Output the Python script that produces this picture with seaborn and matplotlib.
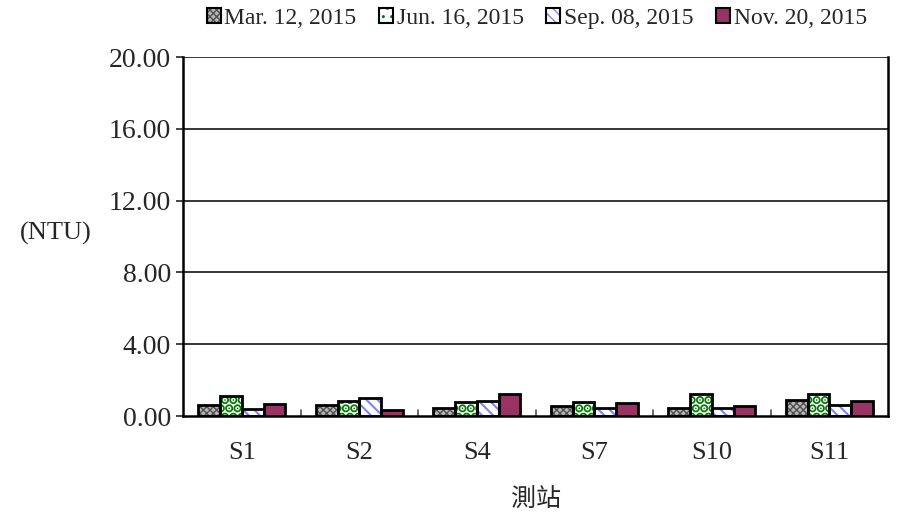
import pandas as pd
import matplotlib.pyplot as plt
import seaborn as sns
from matplotlib.patches import Patch, Rectangle
from matplotlib.legend_handler import HandlerTuple

# Turbidity (NTU) per station and sampling date
stations = ['S1', 'S2', 'S4', 'S7', 'S10', 'S11']
dates = ['Mar. 12, 2015', 'Jun. 16, 2015', 'Sep. 08, 2015', 'Nov. 20, 2015']
mar = [0.64, 0.64, 0.46, 0.55, 0.47, 0.92]
jun = [1.14, 0.86, 0.77, 0.77, 1.20, 1.20]
sep = [0.40, 0.99, 0.81, 0.44, 0.44, 0.64]
nov = [0.68, 0.36, 1.25, 0.70, 0.55, 0.83]
y_ticks = [0, 4, 8, 12, 16, 20]

# bar styles: face colour, hatch, hatch colour, hatch linewidth
styles = [
    ('#b8b8b8', 'xxxxx', '#505050', 1.0),
    ('white', '..', '#007a00', 4.5),
    ('white', '\\\\\\', '#8080ff', 1.5),
    ('#993366', '', '#993366', 1.0),
]


def build_frame():
    rows = []
    for date, vals in zip(dates, [mar, jun, sep, nov]):
        for st, v in zip(stations, vals):
            rows.append({'station': st, 'date': date, 'ntu': v})
    return pd.DataFrame(rows)


def style_patch(p, fc, hatch, hc, hlw):
    p.set_facecolor(fc)
    p.set_edgecolor(hc)
    p.set_linewidth(0)
    p.set_hatch(hatch)
    if hasattr(p, 'set_hatch_linewidth'):
        p.set_hatch_linewidth(hlw)


def main():
    df = build_frame()
    sns.set_style('white')
    plt.rcParams['font.family'] = ['Liberation Serif', 'Noto Sans CJK TC']

    fig = plt.figure(figsize=(8.99, 5.21), dpi=100)
    ax = fig.add_axes([0.2036, 0.2015, 0.7844, 0.689])

    sns.barplot(data=df, x='station', y='ntu', hue='date', order=stations,
                hue_order=dates, width=0.74, ax=ax, legend=False)

    # hatched fill, then a black outline on top
    for cont, st in zip(ax.containers, styles):
        for bar in cont:
            style_patch(bar, *st)
            ax.add_patch(Rectangle(bar.get_xy(), bar.get_width(), bar.get_height(),
                                   fill=False, edgecolor='black', linewidth=2,
                                   zorder=bar.get_zorder() + 0.1))

    ax.set_ylim(0, 20)
    ax.set_xlim(-0.5, len(stations) - 0.5)
    ax.set_yticks(y_ticks)
    ax.set_yticklabels([f'{t:.2f}' for t in y_ticks], fontsize=20)
    ax.tick_params(axis='x', labelsize=19, length=0, pad=19)
    ax.tick_params(axis='y', length=5, width=1.2, direction='out', left=True)
    for t in y_ticks[1:]:
        ax.axhline(t, color='black', linewidth=1.1, zorder=0)
    # category separators on the x axis
    for i in range(1, len(stations)):
        ax.plot([i - 0.5, i - 0.5], [0, 0.35], color='#555555', linewidth=1.2,
                clip_on=False)

    for side in ['left', 'right', 'bottom']:
        ax.spines[side].set_visible(True)
        ax.spines[side].set_color('black')
        ax.spines[side].set_linewidth(1.8)
    ax.spines['top'].set_visible(False)

    ax.set_xlabel('測站', fontsize=18, family='Noto Sans CJK TC', labelpad=16)
    ax.set_ylabel('')
    fig.text(0.062, 0.552, '(NTU)', fontsize=19, ha='center', va='center')

    handles = []
    for date, st in zip(dates, styles):
        fill = Patch()
        style_patch(fill, *st)
        edge = Patch(fill=False, edgecolor='black', linewidth=1.5)
        handles.append((fill, edge))
    fig.legend(handles=handles, labels=dates, loc='center',
               bbox_to_anchor=(0.597, 0.965), ncol=4, frameon=False, fontsize=17,
               handlelength=0.6, handleheight=0.6, handletextpad=0.15,
               columnspacing=0.95, handler_map={tuple: HandlerTuple(ndivide=1)})

    fig.savefig('out.png', dpi=100)


if __name__ == '__main__':
    main()
